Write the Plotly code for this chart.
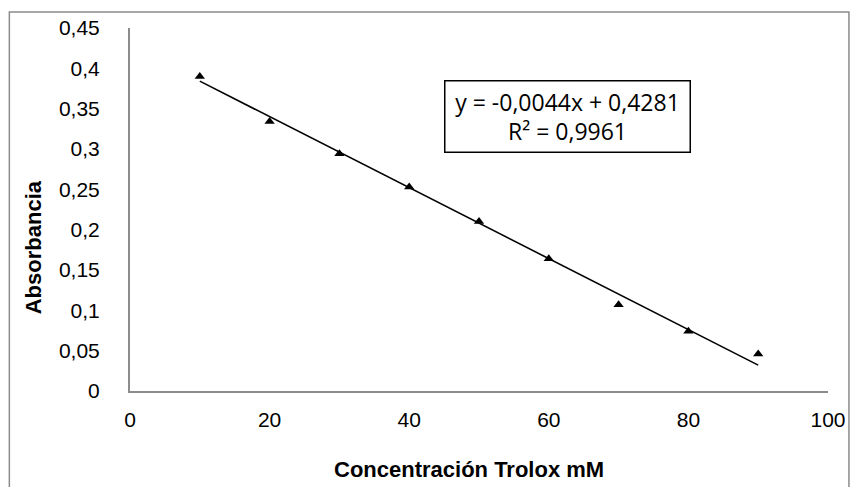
import plotly.graph_objects as go

# Trolox calibration data
concentracion = [10, 20, 30, 40, 50, 60, 70, 80, 90]
absorbancia = [0.390, 0.334, 0.294, 0.253, 0.210, 0.164, 0.107, 0.074, 0.046]

# Linear fit reported on the chart
pendiente = -0.0044
intercepto = 0.4281
r2 = 0.9961

x_ticks = [0, 20, 40, 60, 80, 100]
y_ticks = [0, 0.05, 0.1, 0.15, 0.2, 0.25, 0.3, 0.35, 0.4, 0.45]
y_tick_text = ["0", "0,05", "0,1", "0,15", "0,2", "0,25", "0,3", "0,35", "0,4", "0,45"]

W, H = 858, 487
ML, MR, MT, MB = 130, 28, 28, 96
PW, PH = W - ML - MR, H - MT - MB

def px(x):
    return (x - ML) / PW

def py(y):
    return (H - MB - y) / PH

tick_font = dict(family="Liberation Sans, Arial, sans-serif", size=21, color="#000")
title_font = dict(family="Liberation Sans, Arial, sans-serif", size=22, color="#000")

fig = go.Figure()

fig.add_trace(go.Scatter(
    x=concentracion, y=absorbancia, mode="markers",
    marker=dict(symbol="triangle-up", size=9, color="#000"),
    showlegend=False,
))

x_fit = [concentracion[0], concentracion[-1]]
y_fit = [pendiente * x + intercepto for x in x_fit]
fig.add_trace(go.Scatter(
    x=x_fit, y=y_fit, mode="lines",
    line=dict(color="#000", width=1.6),
    showlegend=False,
))

def fmt(v, d):
    return f"{v:.{d}f}".replace(".", ",")

eq_text = f"y = {fmt(pendiente, 4)}x + {fmt(intercepto, 4)}<br>R² = {fmt(r2, 4)}"
fig.add_annotation(
    text=eq_text, xref="paper", yref="paper",
    x=px(569), y=py(116), xanchor="center", yanchor="middle",
    showarrow=False, align="center", width=238, height=64,
    font=dict(family="Open Sans, sans-serif", size=23, color="#000"),
    bordercolor="#000", borderwidth=1.5, borderpad=3, bgcolor="#fff",
)

fig.add_annotation(
    text="<b>Concentración Trolox mM</b>", xref="paper", yref="paper",
    x=px(470), y=py(469), xanchor="center", yanchor="middle",
    showarrow=False, font=title_font,
)
fig.add_annotation(
    text="<b>Absorbancia</b>", xref="paper", yref="paper",
    x=px(33), y=py(247), xanchor="center", yanchor="middle",
    showarrow=False, textangle=-90, font=title_font,
)

# outer chart border
fig.add_shape(
    type="rect", xref="paper", yref="paper",
    x0=px(9), x1=px(851), y0=py(492), y1=py(12),
    line=dict(color="#8c8c8c", width=1.5), fillcolor="rgba(0,0,0,0)",
    layer="below",
)

fig.update_xaxes(
    range=[0, 100], tickvals=x_ticks, ticktext=[str(t) for t in x_ticks],
    showgrid=False, zeroline=False, showline=True, linecolor="#8c8c8c", linewidth=2,
    ticks="", tickfont=tick_font, ticklabelstandoff=9,
)
fig.update_yaxes(
    range=[0, 0.45], tickvals=y_ticks, ticktext=y_tick_text,
    showgrid=False, zeroline=False, showline=True, linecolor="#8c8c8c", linewidth=2,
    ticks="", tickfont=tick_font, ticklabelstandoff=24,
)

fig.update_layout(
    width=W, height=H,
    margin=dict(l=ML, r=MR, t=MT, b=MB),
    paper_bgcolor="#fff", plot_bgcolor="#fff",
)

fig.write_html("out.html")
